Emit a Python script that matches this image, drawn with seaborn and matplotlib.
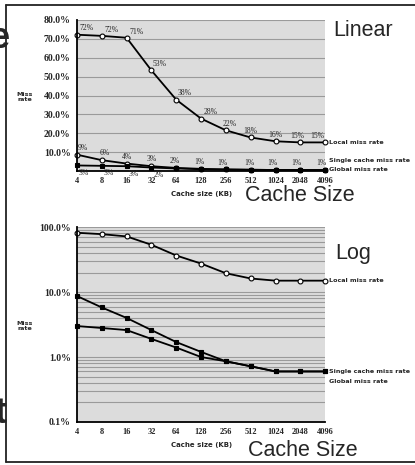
import numpy as np
import pandas as pd
import matplotlib
matplotlib.use("Agg")
import matplotlib.pyplot as plt
import seaborn as sns
from matplotlib.lines import Line2D
from matplotlib.ticker import FixedLocator, NullLocator

# data (miss rate in %, cache size in KB)
cache_kb = [4, 8, 16, 32, 64, 128, 256, 512, 1024, 2048, 4096]
size_labels = ["4", "8", "16", "32", "64", "128", "256", "512", "1024", "2048", "4096"]
local_linear = [72.2, 71.6, 70.6, 53.3, 37.8, 27.8, 21.6, 17.8, 15.8, 15.2, 15.2]
local_log = [82, 78, 72, 53.5, 36.6, 27.5, 19.5, 16.2, 15.0, 15.0, 15.0]
single_rate = [8.7, 5.8, 4.0, 2.6, 1.7, 1.2, 0.86, 0.72, 0.6, 0.6, 0.6]
global_rate = [3.0, 2.8, 2.6, 1.9, 1.4, 1.0, 0.86, 0.72, 0.6, 0.6, 0.6]
lin_ticks = [10, 20, 30, 40, 50, 60, 70, 80]
log_ticks = [0.1, 1, 10, 100]

# label nudges (points)
local_dx = [7, 7, 7, 6, 6, 7, 2.5, 0, 0, -2.5, -6]
single_dx = [4.5, 2, 0.5, 0, -1, -1, -2.5, -1, -2, -2.5, -3]

sns.set_style("white")
plt.rcParams["font.family"] = ["DejaVu Sans"]

fig = plt.figure(figsize=(4.15, 4.65), dpi=100)
ax1 = fig.add_axes([0.1855, 0.632, 0.598, 0.325])
ax2 = fig.add_axes([0.1855, 0.0925, 0.598, 0.419])

xtick_font = dict(family="Liberation Serif", size=6, weight="bold")
ytick_font = dict(family="Liberation Serif", size=7, weight="bold")
small_font = dict(family="DejaVu Sans", size=4.6, weight="bold")


def base_axes(ax):
    ax.set_facecolor("#dcdcdc")
    ax.set_xscale("log", base=2)
    ax.set_xlim(4, 4096)
    ax.xaxis.set_major_locator(FixedLocator(cache_kb))
    ax.xaxis.set_minor_locator(NullLocator())
    ax.set_xticklabels(size_labels, **xtick_font)
    for s in ["top", "right"]:
        ax.spines[s].set_visible(False)
    for s in ["left", "bottom"]:
        ax.spines[s].set_color("black")
        ax.spines[s].set_linewidth(1.3)
    ax.tick_params(axis="both", which="major", length=2, width=0.8, pad=2.5, color="black")
    ax.set_xlabel("Cache size (KB)", fontsize=5, weight="bold", labelpad=4)
    ax.set_ylabel("")
    ax.set_axisbelow(True)


def draw_line(ax, y, marker, face):
    sns.lineplot(x=cache_kb, y=y, ax=ax, color="black", linewidth=1.3,
                 marker=marker, markersize=3.5, markerfacecolor=face,
                 markeredgecolor="black", markeredgewidth=0.8, clip_on=False)


# ---- linear chart
base_axes(ax1)
draw_line(ax1, local_linear, "o", "white")
draw_line(ax1, single_rate, "o", "white")
draw_line(ax1, global_rate, "s", "black")
ax1.set_ylim(0, 80)
ax1.set_yticks(lin_ticks)
ax1.set_yticklabels([f"{t:.1f}%" for t in lin_ticks], **ytick_font)
ax1.yaxis.grid(True, color="#9a9a9a", linewidth=0.8)

for x, v, dx in zip(cache_kb, local_linear, local_dx):
    ax1.annotate(f"{v:.0f}%", xy=(x, v), xytext=(dx, 4.5), textcoords="offset points",
                 ha="center", va="center", fontsize=5.5, family="Liberation Serif")
for x, v, dx in zip(cache_kb, single_rate, single_dx):
    ax1.annotate(f"{v:.0f}%", xy=(x, v), xytext=(dx, 5), textcoords="offset points",
                 ha="center", va="center", fontsize=5.5, family="Liberation Serif")
for x, v in zip(cache_kb[:4], global_rate[:4]):
    ax1.annotate(f"{v:.0f}%", xy=(x, v), xytext=(5, -5.5), textcoords="offset points",
                 ha="center", va="center", fontsize=5.5, family="Liberation Serif",
                 annotation_clip=False)

ax1.annotate("Local miss rate", xy=(cache_kb[-1], local_linear[-1]), xytext=(3, 0),
             textcoords="offset points", ha="left", va="center", annotation_clip=False, **small_font)
ax1.annotate("Single cache miss rate", xy=(cache_kb[-1], single_rate[-1]), xytext=(3, 6.5),
             textcoords="offset points", ha="left", va="center", annotation_clip=False, **small_font)
ax1.annotate("Global miss rate", xy=(cache_kb[-1], global_rate[-1]), xytext=(3, 0),
             textcoords="offset points", ha="left", va="center", annotation_clip=False, **small_font)

# ---- log chart
base_axes(ax2)
draw_line(ax2, local_log, "o", "white")
draw_line(ax2, single_rate, "s", "black")
draw_line(ax2, global_rate, "s", "black")
ax2.set_yscale("log")
ax2.set_ylim(0.1, 100)
ax2.set_yticks(log_ticks)
ax2.set_yticklabels([f"{t:.1f}%" for t in log_ticks], **ytick_font)
ax2.tick_params(axis="y", which="minor", length=0)
ax2.yaxis.grid(True, which="both", color="#9a9a9a", linewidth=0.8)

ax2.annotate("Local miss rate", xy=(cache_kb[-1], local_log[-1]), xytext=(3, 0),
             textcoords="offset points", ha="left", va="center", annotation_clip=False, **small_font)
ax2.annotate("Single cache miss rate", xy=(cache_kb[-1], single_rate[-1]), xytext=(3, 0),
             textcoords="offset points", ha="left", va="center", annotation_clip=False, **small_font)
ax2.annotate("Global miss rate", xy=(cache_kb[-1], global_rate[-1]), xytext=(3, -7),
             textcoords="offset points", ha="left", va="center", annotation_clip=False, **small_font)

# y labels as on the slide
fig.text(0.060, 1 - 97 / 465, "Miss\nrate", ha="center", va="center", fontsize=4.6,
         weight="bold", linespacing=1.1)
fig.text(0.060, 1 - 326 / 465, "Miss\nrate", ha="center", va="center", fontsize=4.6,
         weight="bold", linespacing=1.1)

# slide annotations
big = dict(family="Liberation Sans", fontsize=15.5, va="center", ha="left")
fig.text(333 / 415, 1 - 31 / 465, "Linear", **big)
fig.text(245 / 415, 1 - 195 / 465, "Cache Size", **big)
fig.text(335 / 415, 1 - 253 / 465, "Log", **big)
fig.text(248 / 415, 1 - 450 / 465, "Cache Size", **big)

# cut-off letters from the slide behind (they are clipped in the original too)
fig.text(10 / 415, 1 - 38 / 465, "e", fontsize=26, weight="bold", ha="right", va="center",
         family="Liberation Sans")
fig.text(7 / 415, 1 - 413 / 465, "t", fontsize=26, weight="bold", ha="right", va="center",
         family="Liberation Sans")

# frame of the slide picture
fx0, fy0, fy1 = 5.5 / 415, 1 - 461.5 / 465, 1 - 5.5 / 465
fig.add_artist(Line2D([fx0, 1], [fy1, fy1], color="#222222", linewidth=1.3))
fig.add_artist(Line2D([fx0, fx0], [fy0, fy1], color="#222222", linewidth=1.3))
fig.add_artist(Line2D([fx0, 1], [fy0, fy0], color="#222222", linewidth=1.3))

fig.savefig("out.png", dpi=100)
